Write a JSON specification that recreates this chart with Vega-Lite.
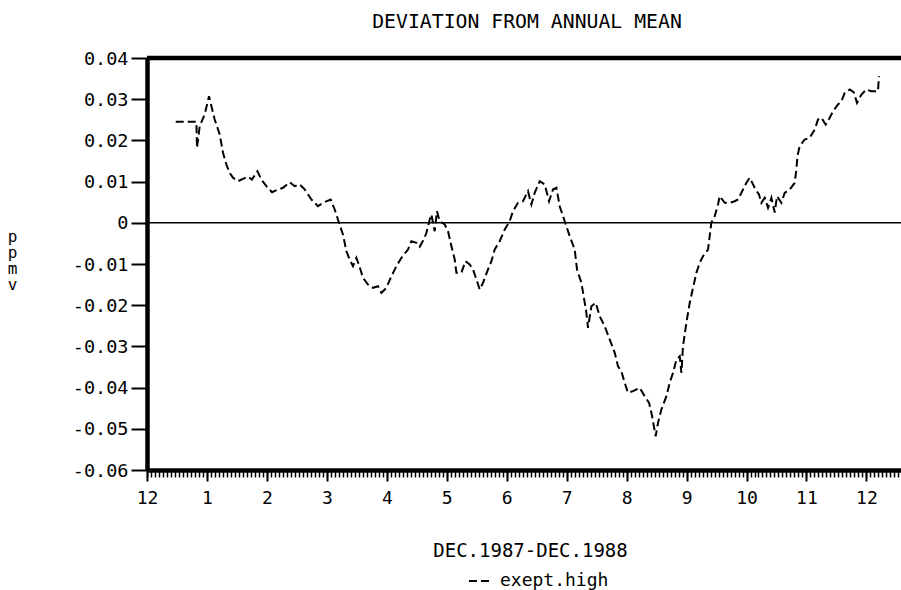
{
  "$schema": "https://vega.github.io/schema/vega-lite/v6.json",
  "width": 754,
  "height": 412,
  "autosize": {"type": "none"},
  "padding": {"left": 147, "top": 58, "right": 0, "bottom": 120},
  "background": "white",
  "config": {"view": {"stroke": null}, "font": "DejaVu Sans Mono"},
  "title": {"text": "DEVIATION FROM ANNUAL MEAN", "font": "DejaVu Sans Mono", "fontSize": 19.8, "fontWeight": "normal", "baseline": "alphabetic", "offset": 1, "dx": 3, "color": "black"},
  "data": {"values": [
    {"month": 0.479, "ppmv": 0.02451, "series": "exept.high"},
    {"month": 0.824, "ppmv": 0.02451, "series": "exept.high"},
    {"month": 0.834, "ppmv": 0.0182, "series": "exept.high"},
    {"month": 0.879, "ppmv": 0.02345, "series": "exept.high"},
    {"month": 0.962, "ppmv": 0.02629, "series": "exept.high"},
    {"month": 1.034, "ppmv": 0.03073, "series": "exept.high"},
    {"month": 1.129, "ppmv": 0.02507, "series": "exept.high"},
    {"month": 1.213, "ppmv": 0.02143, "series": "exept.high"},
    {"month": 1.268, "ppmv": 0.01699, "series": "exept.high"},
    {"month": 1.324, "ppmv": 0.01415, "series": "exept.high"},
    {"month": 1.379, "ppmv": 0.01214, "series": "exept.high"},
    {"month": 1.435, "ppmv": 0.01092, "series": "exept.high"},
    {"month": 1.518, "ppmv": 0.0101, "series": "exept.high"},
    {"month": 1.601, "ppmv": 0.01068, "series": "exept.high"},
    {"month": 1.685, "ppmv": 0.01117, "series": "exept.high"},
    {"month": 1.751, "ppmv": 0.01051, "series": "exept.high"},
    {"month": 1.842, "ppmv": 0.01252, "series": "exept.high"},
    {"month": 1.908, "ppmv": 0.01051, "series": "exept.high"},
    {"month": 1.992, "ppmv": 0.00888, "series": "exept.high"},
    {"month": 2.085, "ppmv": 0.00743, "series": "exept.high"},
    {"month": 2.185, "ppmv": 0.00808, "series": "exept.high"},
    {"month": 2.269, "ppmv": 0.0085, "series": "exept.high"},
    {"month": 2.38, "ppmv": 0.00985, "series": "exept.high"},
    {"month": 2.464, "ppmv": 0.00888, "series": "exept.high"},
    {"month": 2.547, "ppmv": 0.0093, "series": "exept.high"},
    {"month": 2.631, "ppmv": 0.00808, "series": "exept.high"},
    {"month": 2.742, "ppmv": 0.00566, "series": "exept.high"},
    {"month": 2.852, "ppmv": 0.00403, "series": "exept.high"},
    {"month": 2.936, "ppmv": 0.00485, "series": "exept.high"},
    {"month": 3.064, "ppmv": 0.00566, "series": "exept.high"},
    {"month": 3.131, "ppmv": 0.00323, "series": "exept.high"},
    {"month": 3.203, "ppmv": 0.0, "series": "exept.high"},
    {"month": 3.269, "ppmv": -0.00284, "series": "exept.high"},
    {"month": 3.326, "ppmv": -0.00689, "series": "exept.high"},
    {"month": 3.381, "ppmv": -0.00891, "series": "exept.high"},
    {"month": 3.436, "ppmv": -0.01053, "series": "exept.high"},
    {"month": 3.493, "ppmv": -0.0085, "series": "exept.high"},
    {"month": 3.56, "ppmv": -0.01133, "series": "exept.high"},
    {"month": 3.603, "ppmv": -0.01335, "series": "exept.high"},
    {"month": 3.686, "ppmv": -0.01498, "series": "exept.high"},
    {"month": 3.77, "ppmv": -0.01578, "series": "exept.high"},
    {"month": 3.853, "ppmv": -0.01539, "series": "exept.high"},
    {"month": 3.91, "ppmv": -0.01699, "series": "exept.high"},
    {"month": 3.993, "ppmv": -0.01578, "series": "exept.high"},
    {"month": 4.077, "ppmv": -0.01296, "series": "exept.high"},
    {"month": 4.16, "ppmv": -0.01053, "series": "exept.high"},
    {"month": 4.244, "ppmv": -0.0085, "series": "exept.high"},
    {"month": 4.354, "ppmv": -0.00648, "series": "exept.high"},
    {"month": 4.41, "ppmv": -0.00447, "series": "exept.high"},
    {"month": 4.494, "ppmv": -0.00485, "series": "exept.high"},
    {"month": 4.549, "ppmv": -0.00583, "series": "exept.high"},
    {"month": 4.616, "ppmv": -0.00405, "series": "exept.high"},
    {"month": 4.661, "ppmv": -0.00243, "series": "exept.high"},
    {"month": 4.716, "ppmv": 0.0008, "series": "exept.high"},
    {"month": 4.744, "ppmv": 0.00201, "series": "exept.high"},
    {"month": 4.799, "ppmv": -0.00204, "series": "exept.high"},
    {"month": 4.837, "ppmv": 0.00282, "series": "exept.high"},
    {"month": 4.882, "ppmv": 0.00039, "series": "exept.high"},
    {"month": 4.966, "ppmv": -0.00041, "series": "exept.high"},
    {"month": 5.021, "ppmv": -0.00204, "series": "exept.high"},
    {"month": 5.078, "ppmv": -0.00568, "series": "exept.high"},
    {"month": 5.133, "ppmv": -0.00891, "series": "exept.high"},
    {"month": 5.161, "ppmv": -0.01214, "series": "exept.high"},
    {"month": 5.244, "ppmv": -0.01214, "series": "exept.high"},
    {"month": 5.311, "ppmv": -0.00932, "series": "exept.high"},
    {"month": 5.383, "ppmv": -0.01012, "series": "exept.high"},
    {"month": 5.438, "ppmv": -0.01133, "series": "exept.high"},
    {"month": 5.495, "ppmv": -0.01376, "series": "exept.high"},
    {"month": 5.55, "ppmv": -0.01619, "series": "exept.high"},
    {"month": 5.605, "ppmv": -0.01456, "series": "exept.high"},
    {"month": 5.688, "ppmv": -0.01133, "series": "exept.high"},
    {"month": 5.745, "ppmv": -0.00932, "series": "exept.high"},
    {"month": 5.8, "ppmv": -0.00648, "series": "exept.high"},
    {"month": 5.883, "ppmv": -0.00447, "series": "exept.high"},
    {"month": 5.967, "ppmv": -0.00163, "series": "exept.high"},
    {"month": 6.05, "ppmv": 0.00039, "series": "exept.high"},
    {"month": 6.105, "ppmv": 0.00282, "series": "exept.high"},
    {"month": 6.188, "ppmv": 0.00485, "series": "exept.high"},
    {"month": 6.272, "ppmv": 0.00524, "series": "exept.high"},
    {"month": 6.355, "ppmv": 0.00767, "series": "exept.high"},
    {"month": 6.412, "ppmv": 0.00444, "series": "exept.high"},
    {"month": 6.467, "ppmv": 0.00728, "series": "exept.high"},
    {"month": 6.551, "ppmv": 0.0101, "series": "exept.high"},
    {"month": 6.634, "ppmv": 0.0093, "series": "exept.high"},
    {"month": 6.706, "ppmv": 0.00524, "series": "exept.high"},
    {"month": 6.772, "ppmv": 0.00808, "series": "exept.high"},
    {"month": 6.829, "ppmv": 0.0085, "series": "exept.high"},
    {"month": 6.884, "ppmv": 0.00403, "series": "exept.high"},
    {"month": 6.967, "ppmv": 0.00039, "series": "exept.high"},
    {"month": 7.051, "ppmv": -0.00325, "series": "exept.high"},
    {"month": 7.134, "ppmv": -0.00648, "series": "exept.high"},
    {"month": 7.173, "ppmv": -0.01133, "series": "exept.high"},
    {"month": 7.246, "ppmv": -0.01456, "series": "exept.high"},
    {"month": 7.284, "ppmv": -0.01782, "series": "exept.high"},
    {"month": 7.329, "ppmv": -0.02184, "series": "exept.high"},
    {"month": 7.356, "ppmv": -0.02549, "series": "exept.high"},
    {"month": 7.413, "ppmv": -0.02024, "series": "exept.high"},
    {"month": 7.485, "ppmv": -0.01942, "series": "exept.high"},
    {"month": 7.551, "ppmv": -0.02267, "series": "exept.high"},
    {"month": 7.635, "ppmv": -0.0251, "series": "exept.high"},
    {"month": 7.718, "ppmv": -0.02833, "series": "exept.high"},
    {"month": 7.802, "ppmv": -0.03155, "series": "exept.high"},
    {"month": 7.857, "ppmv": -0.03481, "series": "exept.high"},
    {"month": 7.913, "ppmv": -0.03602, "series": "exept.high"},
    {"month": 7.968, "ppmv": -0.03883, "series": "exept.high"},
    {"month": 8.023, "ppmv": -0.04126, "series": "exept.high"},
    {"month": 8.107, "ppmv": -0.04087, "series": "exept.high"},
    {"month": 8.218, "ppmv": -0.04005, "series": "exept.high"},
    {"month": 8.302, "ppmv": -0.04209, "series": "exept.high"},
    {"month": 8.374, "ppmv": -0.04369, "series": "exept.high"},
    {"month": 8.414, "ppmv": -0.04612, "series": "exept.high"},
    {"month": 8.44, "ppmv": -0.04816, "series": "exept.high"},
    {"month": 8.485, "ppmv": -0.0518, "series": "exept.high"},
    {"month": 8.524, "ppmv": -0.04854, "series": "exept.high"},
    {"month": 8.58, "ppmv": -0.04532, "series": "exept.high"},
    {"month": 8.664, "ppmv": -0.04209, "series": "exept.high"},
    {"month": 8.719, "ppmv": -0.03883, "series": "exept.high"},
    {"month": 8.774, "ppmv": -0.03641, "series": "exept.high"},
    {"month": 8.831, "ppmv": -0.03318, "series": "exept.high"},
    {"month": 8.886, "ppmv": -0.03238, "series": "exept.high"},
    {"month": 8.914, "ppmv": -0.03641, "series": "exept.high"},
    {"month": 8.941, "ppmv": -0.02995, "series": "exept.high"},
    {"month": 8.997, "ppmv": -0.02427, "series": "exept.high"},
    {"month": 9.053, "ppmv": -0.01942, "series": "exept.high"},
    {"month": 9.108, "ppmv": -0.01578, "series": "exept.high"},
    {"month": 9.164, "ppmv": -0.01214, "series": "exept.high"},
    {"month": 9.219, "ppmv": -0.00971, "series": "exept.high"},
    {"month": 9.274, "ppmv": -0.00811, "series": "exept.high"},
    {"month": 9.358, "ppmv": -0.00648, "series": "exept.high"},
    {"month": 9.386, "ppmv": -0.00325, "series": "exept.high"},
    {"month": 9.413, "ppmv": 0.0, "series": "exept.high"},
    {"month": 9.469, "ppmv": 0.0016, "series": "exept.high"},
    {"month": 9.525, "ppmv": 0.00444, "series": "exept.high"},
    {"month": 9.553, "ppmv": 0.00646, "series": "exept.high"},
    {"month": 9.636, "ppmv": 0.00485, "series": "exept.high"},
    {"month": 9.72, "ppmv": 0.00485, "series": "exept.high"},
    {"month": 9.803, "ppmv": 0.00524, "series": "exept.high"},
    {"month": 9.858, "ppmv": 0.00566, "series": "exept.high"},
    {"month": 9.915, "ppmv": 0.00728, "series": "exept.high"},
    {"month": 9.998, "ppmv": 0.00971, "series": "exept.high"},
    {"month": 10.053, "ppmv": 0.01092, "series": "exept.high"},
    {"month": 10.137, "ppmv": 0.0085, "series": "exept.high"},
    {"month": 10.208, "ppmv": 0.00687, "series": "exept.high"},
    {"month": 10.248, "ppmv": 0.00485, "series": "exept.high"},
    {"month": 10.304, "ppmv": 0.00607, "series": "exept.high"},
    {"month": 10.359, "ppmv": 0.00364, "series": "exept.high"},
    {"month": 10.415, "ppmv": 0.00607, "series": "exept.high"},
    {"month": 10.471, "ppmv": 0.0025, "series": "exept.high"},
    {"month": 10.509, "ppmv": 0.00646, "series": "exept.high"},
    {"month": 10.582, "ppmv": 0.00485, "series": "exept.high"},
    {"month": 10.637, "ppmv": 0.00728, "series": "exept.high"},
    {"month": 10.721, "ppmv": 0.00808, "series": "exept.high"},
    {"month": 10.804, "ppmv": 0.00971, "series": "exept.high"},
    {"month": 10.832, "ppmv": 0.01294, "series": "exept.high"},
    {"month": 10.849, "ppmv": 0.01617, "series": "exept.high"},
    {"month": 10.887, "ppmv": 0.01859, "series": "exept.high"},
    {"month": 10.971, "ppmv": 0.02022, "series": "exept.high"},
    {"month": 11.054, "ppmv": 0.02063, "series": "exept.high"},
    {"month": 11.138, "ppmv": 0.02265, "series": "exept.high"},
    {"month": 11.193, "ppmv": 0.02507, "series": "exept.high"},
    {"month": 11.249, "ppmv": 0.02549, "series": "exept.high"},
    {"month": 11.321, "ppmv": 0.02386, "series": "exept.high"},
    {"month": 11.388, "ppmv": 0.02549, "series": "exept.high"},
    {"month": 11.443, "ppmv": 0.02709, "series": "exept.high"},
    {"month": 11.526, "ppmv": 0.02871, "series": "exept.high"},
    {"month": 11.583, "ppmv": 0.02951, "series": "exept.high"},
    {"month": 11.638, "ppmv": 0.03155, "series": "exept.high"},
    {"month": 11.721, "ppmv": 0.03235, "series": "exept.high"},
    {"month": 11.788, "ppmv": 0.0317, "series": "exept.high"},
    {"month": 11.843, "ppmv": 0.02913, "series": "exept.high"},
    {"month": 11.916, "ppmv": 0.03114, "series": "exept.high"},
    {"month": 12.0, "ppmv": 0.03235, "series": "exept.high"},
    {"month": 12.083, "ppmv": 0.03194, "series": "exept.high"},
    {"month": 12.193, "ppmv": 0.03194, "series": "exept.high"},
    {"month": 12.21, "ppmv": 0.03558, "series": "exept.high"}
  ]},
  "layer": [
    {
      "mark": {"type": "line", "color": "black", "strokeWidth": 2},
      "encoding": {
        "x": {
          "field": "month", "type": "quantitative",
          "scale": {"domain": [0, 12.577], "nice": false, "zero": false},
          "axis": {
            "orient": "bottom",
            "values": [0, 1, 2, 3, 4, 5, 6, 7, 8, 9, 10, 11, 12],
            "labelExpr": "datum.value == 0 ? '12' : datum.label",
            "tickSize": 11, "tickWidth": 2, "tickColor": "black",
            "domainWidth": 4.5, "domainColor": "black",
            "labelFont": "DejaVu Sans Mono", "labelFontSize": 18, "labelColor": "black",
            "labelPadding": 8, "labelFlush": false, "labelOverlap": false, "grid": false,
            "title": "DEC.1987-DEC.1988", "titleFont": "DejaVu Sans Mono", "titleFontSize": 19,
            "titleFontWeight": "normal", "titleColor": "black",
            "titleX": 383, "titleY": 86, "titleBaseline": "alphabetic", "titleAlign": "center"
          }
        },
        "y": {
          "field": "ppmv", "type": "quantitative",
          "scale": {"domain": [-0.06, 0.04], "nice": false, "zero": false},
          "axis": {
            "orient": "left",
            "values": [-0.06, -0.05, -0.04, -0.03, -0.02, -0.01, 0, 0.01, 0.02, 0.03, 0.04],
            "labelExpr": "datum.value == 0 ? '0' : (datum.value < 0 ? '-' : '') + format(abs(datum.value), '.2f')",
            "tickSize": 16, "tickWidth": 2, "tickColor": "black",
            "domainWidth": 4.5, "domainColor": "black",
            "labelFont": "DejaVu Sans Mono", "labelFontSize": 18.5, "labelColor": "black",
            "labelPadding": 3, "labelFlush": false, "labelOverlap": false, "grid": false,
            "title": ["p", "p", "m", "v"], "titleFont": "DejaVu Sans Mono", "titleFontSize": 16,
            "titleFontWeight": "normal", "titleColor": "black", "titleAngle": 0,
            "titleX": -135, "titleY": 183, "titleBaseline": "alphabetic", "titleAlign": "center",
            "titleLineHeight": 16
          }
        },
        "strokeDash": {
          "field": "series", "type": "nominal",
          "scale": {"range": [[8, 4]]},
          "legend": {
            "orient": "none", "legendX": 321, "legendY": 512, "title": null,
            "symbolType": "stroke", "symbolSize": 400, "symbolStrokeWidth": 2,
            "symbolStrokeColor": "black",
            "labelFont": "DejaVu Sans Mono", "labelFontSize": 18, "labelColor": "black",
            "labelOffset": 10
          }
        }
      }
    },
    {
      "data": {"values": [{}]},
      "mark": {"type": "rule", "color": "black", "strokeWidth": 1.5},
      "encoding": {
        "x": {"datum": 0, "type": "quantitative", "axis": {
          "orient": "bottom",
          "values": {"expr": "sequence(0, 12.58, 1/15)"},
          "labels": false, "domain": false, "tickSize": 7, "tickWidth": 1.5,
          "tickColor": "black", "title": null, "grid": false
        }},
        "x2": {"datum": 12.577},
        "y": {"datum": 0, "type": "quantitative"}
      }
    },
    {
      "data": {"values": [{}]},
      "mark": {"type": "rule", "color": "black", "strokeWidth": 4.5},
      "encoding": {
        "x": {"datum": 0, "type": "quantitative", "axis": null},
        "x2": {"datum": 12.577},
        "y": {"datum": 0.04, "type": "quantitative"}
      }
    }
  ],
  "resolve": {"axis": {"x": "independent"}}
}
